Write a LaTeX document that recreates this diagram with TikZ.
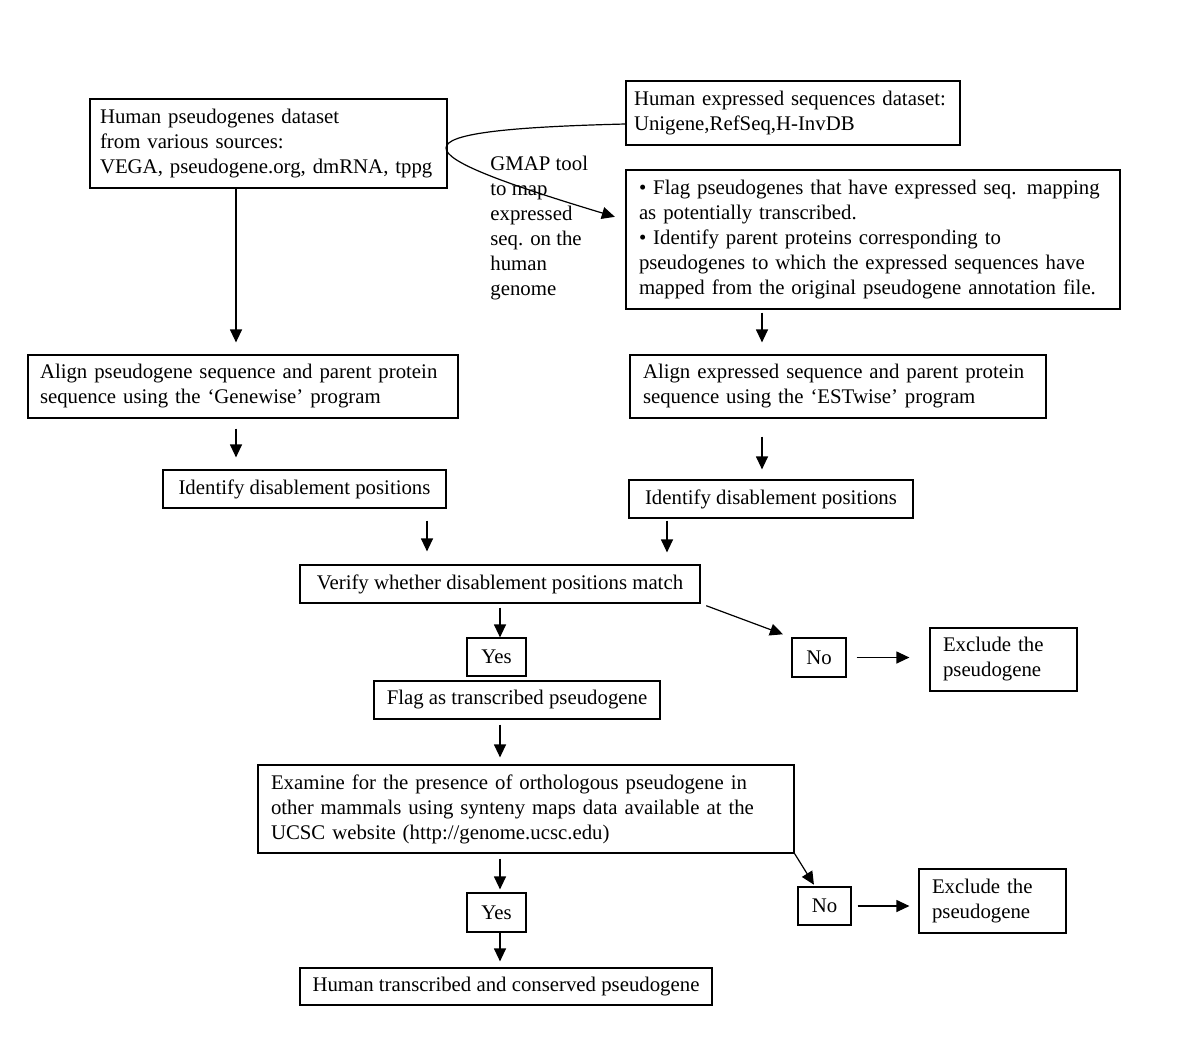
\documentclass[tikz,border=0pt]{standalone}
\usepackage{fontspec}
\setmainfont{Liberation Serif}
\usetikzlibrary{arrows.meta}

\begin{document}
\begin{tikzpicture}[x=0.5pt,y=-0.5pt,
  box/.style={draw, line width=0.6pt, align=left, inner xsep=6.5pt, inner ysep=0pt, font=\fontsize{10.4}{12.5}\selectfont},
  tag/.style={draw, line width=0.6pt, align=center, inner sep=0pt, font=\fontsize{10.4}{12.5}\selectfont},
  arr/.style={-{Triangle[length=6.5pt,width=6pt]}, line width=0.6pt}]
\useasboundingbox (0,0) rectangle (1200,1056);

% inputs
\node[box, inner xsep=5pt, text width=168.5pt, minimum height=44.5pt] (src) at (268.5,143.5) {Human pseudogenes dataset\\ from various sources:\\ VEGA, pseudogene.org, dmRNA, tppg};
\node[box, inner xsep=4pt, text width=159pt, minimum height=32pt] (exp) at (793,113) {Human expressed sequences dataset:\\ Unigene,RefSeq,H-InvDB};
\node[box, text width=234pt, minimum height=69.5pt] (flag) at (873,239.5) {• Flag pseudogenes that have expressed seq. mapping\\ as potentially transcribed.\\ • Identify parent proteins corresponding to\\ pseudogenes to which the expressed sequences have\\ mapped from the original pseudogene annotation file.};
\node[anchor=north west, inner sep=0pt, align=left, font=\fontsize{10.4}{12.5}\selectfont] (gmap) at (490,156) {GMAP tool\\ to map\\ expressed\\ seq. on the\\ human\\ genome};

% alignments
\node[box, inner xsep=6pt, text width=203pt, minimum height=31.5pt] (alignL) at (243,386.5) {Align pseudogene sequence and parent protein\\ sequence using the ‘Genewise’ program};
\node[box, text width=195pt, minimum height=31.5pt] (alignR) at (838,386.5) {Align expressed sequence and parent protein\\ sequence using the ‘ESTwise’ program};
\node[tag, minimum width=141.5pt, minimum height=19pt] (disL) at (304.5,489) {Identify disablement positions};
\node[tag, minimum width=142pt, minimum height=19pt] (disR) at (771,499) {Identify disablement positions};
\node[tag, minimum width=200pt, minimum height=19pt] (verify) at (500,584) {Verify whether disablement positions match};

% first decision
\node[tag, minimum width=29.5pt, minimum height=19pt] (yes1) at (496.5,657) {Yes};
\node[tag, minimum width=27pt, minimum height=19.5pt] (no1) at (819,657.5) {No};
\node[box, text width=60.5pt, minimum height=31.5pt] (excl1) at (1003.5,659.5) {Exclude the\\ pseudogene};
\node[tag, minimum width=143pt, minimum height=19pt] (trans) at (517,700) {Flag as transcribed pseudogene};

% second decision
\node[box, text width=255pt, minimum height=44pt] (ortho) at (526,809) {Examine for the presence of orthologous pseudogene in\\ other mammals using synteny maps data available at the\\ UCSC website (http://genome.ucsc.edu)};
\node[tag, minimum width=29.5pt, minimum height=19.5pt] (yes2) at (496.5,912.5) {Yes};
\node[tag, minimum width=26.5pt, minimum height=19pt] (no2) at (824.5,906) {No};
\node[box, text width=60.5pt, minimum height=32pt] (excl2) at (992.5,901) {Exclude the\\ pseudogene};
\node[tag, minimum width=206pt, minimum height=18.5pt] (final) at (506,986.5) {Human transcribed and conserved pseudogene};

% connectors
\draw[arr, shorten >=6pt] (src.south -| 236,0) -- (alignL.north -| 236,0);
\draw[arr, shorten >=5.5pt] (exp.west |- 0,124) .. controls (380,130) and (400,152) .. (flag.west |- 0,220);
\draw[arr, shorten <=1.5pt, shorten >=6pt] (flag.south -| 762,0) -- (alignR.north -| 762,0);
\draw[arr, shorten <=5pt, shorten >=6pt] (alignL.south -| 236,0) -- (disL.north -| 236,0);
\draw[arr, shorten <=9pt, shorten >=5pt] (alignR.south -| 762,0) -- (disR.north -| 762,0);
\draw[arr, shorten <=6pt, shorten >=6.5pt] (disL.south -| 427,0) -- (verify.north -| 427,0);
\draw[arr, shorten <=1pt, shorten >=6pt] (disR.south -| 667,0) -- (verify.north -| 667,0);
\draw[arr, shorten <=2pt] (verify.south -| 500,0) -- (yes1.north -| 500,0);
\draw[arr, shorten <=3pt, shorten >=4.5pt] (verify.south east) -- (no1.north west);
\draw[arr, shorten <=5pt, shorten >=10pt] (no1.east) -- (no1.east -| excl1.west);
\draw[arr, shorten <=2.5pt, shorten >=3.5pt] (trans.south -| 500,0) -- (ortho.north -| 500,0);
\draw[arr, shorten >=1pt] (ortho.south east) -- (no2.north -| 815,0);
\draw[arr, shorten <=2.5pt, shorten >=1.5pt] (ortho.south -| 500,0) -- (yes2.north -| 500,0);
\draw[arr, shorten >=3pt] (yes2.south -| 500,0) -- (final.north -| 500,0);
\draw[arr, shorten <=3pt, shorten >=4.5pt] (no2.east) -- (no2.east -| excl2.west);
\end{tikzpicture}
\end{document}
